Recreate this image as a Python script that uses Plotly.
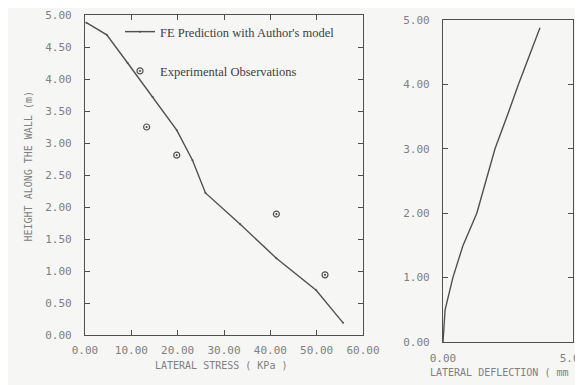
import plotly.graph_objects as go

# Left panel: lateral stress vs height
fe_stress = [0.3, 4.7, 9.2, 14.6, 19.8, 23.2, 26.0, 33.5, 41.3, 49.9, 55.7]
fe_height = [4.88, 4.69, 4.25, 3.72, 3.20, 2.73, 2.22, 1.73, 1.20, 0.70, 0.19]
exp_stress = [13.3, 19.8, 41.3, 51.8]
exp_height = [3.25, 2.81, 1.89, 0.94]

# Right panel: lateral deflection vs height
defl = [0.0, 0.03, 0.08, 0.38, 0.77, 1.30, 1.65, 2.00, 2.46, 2.90, 3.73]
defl_height = [0.0, 0.25, 0.50, 1.00, 1.50, 2.00, 2.50, 3.00, 3.50, 4.00, 4.88]

# The page body has an 8px default margin, so the figure is drawn 8px in.
OFF = 8
W, H = 583 - OFF, 385 - OFF
ink = "#505050"
tickcol = "#808080"
mono = "DejaVu Sans Mono"
serif = "Liberation Serif"


def px(x):
    return (x - OFF) / W


def py(y):
    return (H - (y - OFF)) / H


fig = go.Figure()
fig.add_trace(go.Scatter(x=fe_stress, y=fe_height, mode="lines+markers",
                         line=dict(color=ink, width=1.4),
                         marker=dict(size=2, color=ink),
                         name="FE Prediction with Author's model",
                         legendgroup="a", xaxis="x", yaxis="y"))
fig.add_trace(go.Scatter(x=exp_stress, y=exp_height, mode="markers",
                         marker=dict(symbol="circle-open-dot", size=6, color=ink,
                                     line=dict(width=1.2, color=ink)),
                         name="Experimental Observations",
                         legendgroup="b", xaxis="x", yaxis="y"))
fig.add_trace(go.Scatter(x=defl, y=defl_height, mode="lines",
                         line=dict(color=ink, width=1.4), showlegend=False,
                         xaxis="x2", yaxis="y2"))

axcommon = dict(showline=True, linecolor=ink, linewidth=1.3, mirror="ticks",
                ticks="inside", ticklen=5, tickcolor=ink, showgrid=False,
                zeroline=False, tickformat=".2f", automargin=False,
                tickfont=dict(family=mono, size=11, color=tickcol))

fig.update_layout(
    width=W, height=H,
    margin=dict(l=0, r=0, t=0, b=0),
    paper_bgcolor="#f6f6f4", plot_bgcolor="#f6f6f4",
    xaxis=dict(domain=[px(85), px(363)], range=[0, 60], dtick=10,
               ticklabelstandoff=5, **axcommon),
    yaxis=dict(domain=[py(335), py(15)], range=[0, 5], dtick=0.5,
               ticklabelstandoff=10, **axcommon),
    xaxis2=dict(domain=[px(443), px(573)], range=[0, 5], dtick=5, anchor="y2",
                ticklabelstandoff=6, ticklabeloverflow="allow", **axcommon),
    yaxis2=dict(domain=[py(342), py(20)], range=[0, 5], dtick=1, anchor="x2",
                ticklabelstandoff=10, **axcommon),
    legend=dict(x=px(120), y=py(17), xanchor="left", yanchor="top",
                bgcolor="rgba(0,0,0,0)", font=dict(family=serif, size=12.5, color="#404040"),
                tracegroupgap=20),
    showlegend=True,
    annotations=[
        dict(text="HEIGHT ALONG THE WALL (m)", x=px(20), y=py(166),
             xref="paper", yref="paper", showarrow=False, textangle=-90,
             font=dict(family=mono, size=10, color=tickcol)),
        dict(text="LATERAL STRESS ( KPa )", x=px(221), y=py(373),
             xref="paper", yref="paper", showarrow=False,
             font=dict(family=mono, size=10, color=tickcol)),
        dict(text="LATERAL DEFLECTION ( mm )", x=px(428), y=py(380),
             xref="paper", yref="paper", showarrow=False, xanchor="left",
             font=dict(family=mono, size=10, color=tickcol)),
    ],
)

fig.write_html("out.html", config={"displayModeBar": False})
